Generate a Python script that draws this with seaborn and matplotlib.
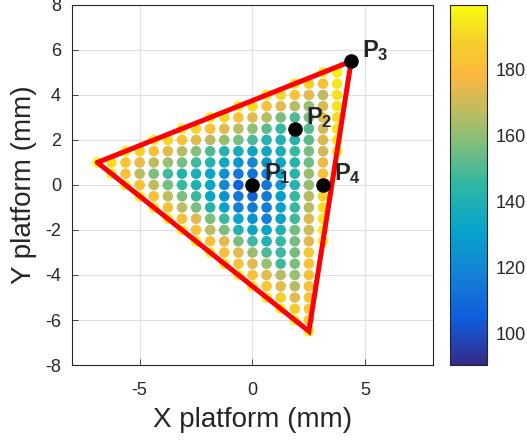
import numpy as np
import pandas as pd
import matplotlib
matplotlib.use("Agg")
import matplotlib.pyplot as plt
import seaborn as sns
from matplotlib.colors import LinearSegmentedColormap, Normalize
from matplotlib.cm import ScalarMappable

# grid of platform positions (mm); each row starts at row_x0 and steps by GRID_DX
GRID_DX = 0.625
row_y = [5.5, 5.0, 4.5, 4.0, 3.5, 3.0, 2.5, 2.0, 1.5, 1.0, 0.5, 0.0, -0.5,
         -1.0, -1.5, -2.0, -2.5, -3.0, -3.5, -4.0, -4.5, -5.0, -5.5, -6.0, -6.5]
row_x0 = [4.375, 3.125, 1.875, 0.625, -0.625, -1.875, -3.125, -4.375, -5.625,
          -6.875, -6.25, -5.625, -5.0, -4.375, -3.75, -3.125, -2.5, -1.875,
          -1.25, -0.625, 0.0, 0.625, 1.25, 1.875, 2.5]
row_vals = [
    [199.7],
    [196, 197],
    [196, 188, 182, 194],
    [196, 190, 182, 174, 168, 193],
    [196, 192, 182, 174, 166, 161, 172, 194],
    [196, 190, 182, 174, 166, 157, 150, 156, 174, 192],
    [196, 190, 182, 174, 167, 160, 152, 146, 145, 151, 170, 193],
    [196, 190, 182, 174, 166, 161, 156, 149, 142, 140, 142, 152, 172, 195],
    [196, 189, 182, 174, 166, 158, 150, 142, 137, 133, 134, 138, 146, 156, 170, 196],
    [199, 192, 184, 176, 168, 162, 156, 148, 142, 134, 126, 120, 124, 132, 142, 155, 177],
    [196, 182, 167, 157, 148, 141, 138, 132, 124, 115, 112, 118, 130, 143, 161, 182],
    [196, 182, 168, 156, 146, 140, 132, 120, 106, 90.4, 114, 126, 142, 160, 178],
    [196, 182, 167, 157, 147, 133, 125, 115, 106, 114, 130, 146, 166, 189],
    [196, 182, 167, 157, 142, 132, 118, 115, 116, 130, 146, 166, 192],
    [196, 182, 174, 157, 147, 133, 125, 118, 130, 148, 172, 194],
    [196, 182, 167, 157, 141, 133, 132, 140, 155, 170, 196],
    [196, 182, 174, 157, 147, 140, 146, 156, 174, 196],
    [196, 182, 174, 162, 150, 147, 156, 186],
    [196, 182, 174, 162, 148, 157, 183],
    [196, 183, 174, 166, 162, 182],
    [196, 184, 174, 166, 182],
    [196, 188, 174, 183],
    [196, 188, 185],
    [196, 188],
    [198],
]

# workspace triangle and the marked points
tri_x = [-6.875, 4.375, 2.5, -6.875]
tri_y = [1.0, 5.5, -6.5, 1.0]
pt_names = ["1", "2", "3", "4"]
pt_x = [0.0, 1.875, 4.375, 3.125]
pt_y = [0.0, 2.5, 5.5, 0.0]

# build the long table
xs, ys, vs = [], [], []
for y0, x0, vals in zip(row_y, row_x0, row_vals):
    for i, v in enumerate(vals):
        xs.append(x0 + i * GRID_DX)
        ys.append(y0)
        vs.append(v)
df = pd.DataFrame({"x": xs, "y": ys, "v": vs})

# parula-like colormap
parula = LinearSegmentedColormap.from_list("parula", [
    (0.0, "#352a87"), (0.125, "#0f5cdd"), (0.25, "#1481d6"),
    (0.375, "#06a4ca"), (0.5, "#2eb7a4"), (0.625, "#87bf77"),
    (0.72, "#c8bb5c"), (0.81, "#fdb93e"), (0.9, "#f5d02a"),
    (1.0, "#f9fb0e")])

sns.set_theme(style="whitegrid")
plt.rcParams["font.family"] = ["Liberation Sans", "DejaVu Sans"]
plt.rcParams["axes.unicode_minus"] = False
plt.rcParams["mathtext.fontset"] = "custom"
plt.rcParams["mathtext.rm"] = "Liberation Sans"
plt.rcParams["mathtext.bf"] = "Liberation Sans:bold"

fig = plt.figure(figsize=(5.27, 4.44), dpi=100)
ax = fig.add_axes([0.1366, 0.1779, 0.685, 0.811])
cax = fig.add_axes([0.8539, 0.1779, 0.0702, 0.811])

norm = Normalize(vmin=df["v"].min(), vmax=df["v"].max())
sns.scatterplot(data=df, x="x", y="y", hue="v", palette=parula, hue_norm=norm,
                s=58, linewidth=0, legend=False, ax=ax, zorder=2)

ax.plot(tri_x, tri_y, color="red", lw=3.6, zorder=3, solid_joinstyle="miter")
ax.scatter(pt_x, pt_y, s=110, color="black", zorder=4, linewidth=0)
for name, px, py in zip(pt_names, pt_x, pt_y):
    ax.text(px + 0.5, py + 0.2, r"$\mathbf{P_{%s}}$" % name, fontsize=17,
            ha="left", va="baseline", zorder=5)

ax.set_xlim(-8, 8)
ax.set_ylim(-8, 8)
ax.set_xticks([-5, 0, 5])
ax.set_yticks(np.arange(-8, 9, 2))
ax.set_xlabel("X platform (mm)", fontsize=20, color="#262626", labelpad=6)
ax.set_ylabel("Y platform (mm)", fontsize=20, color="#262626", labelpad=6)
ax.grid(True, color="#dedede", lw=0.8)
ax.set_facecolor("white")
for sp in ax.spines.values():
    sp.set_visible(True)
    sp.set_color("#262626")
    sp.set_linewidth(0.8)
ax.tick_params(direction="in", length=4, width=0.6, colors="#262626",
               labelsize=13, bottom=True, left=True, top=False, right=False)
ax.tick_params(axis="x", pad=12)
ax.tick_params(axis="y", pad=8)

sm = ScalarMappable(norm=norm, cmap=parula)
cb = fig.colorbar(sm, cax=cax)
cb.set_ticks([100, 120, 140, 160, 180])
cb.outline.set_edgecolor("#262626")
cb.outline.set_linewidth(0.8)
cax.tick_params(direction="in", length=4, width=0.6, colors="#262626",
                labelsize=13, right=True, pad=6)

fig.savefig("out.png", dpi=100)
